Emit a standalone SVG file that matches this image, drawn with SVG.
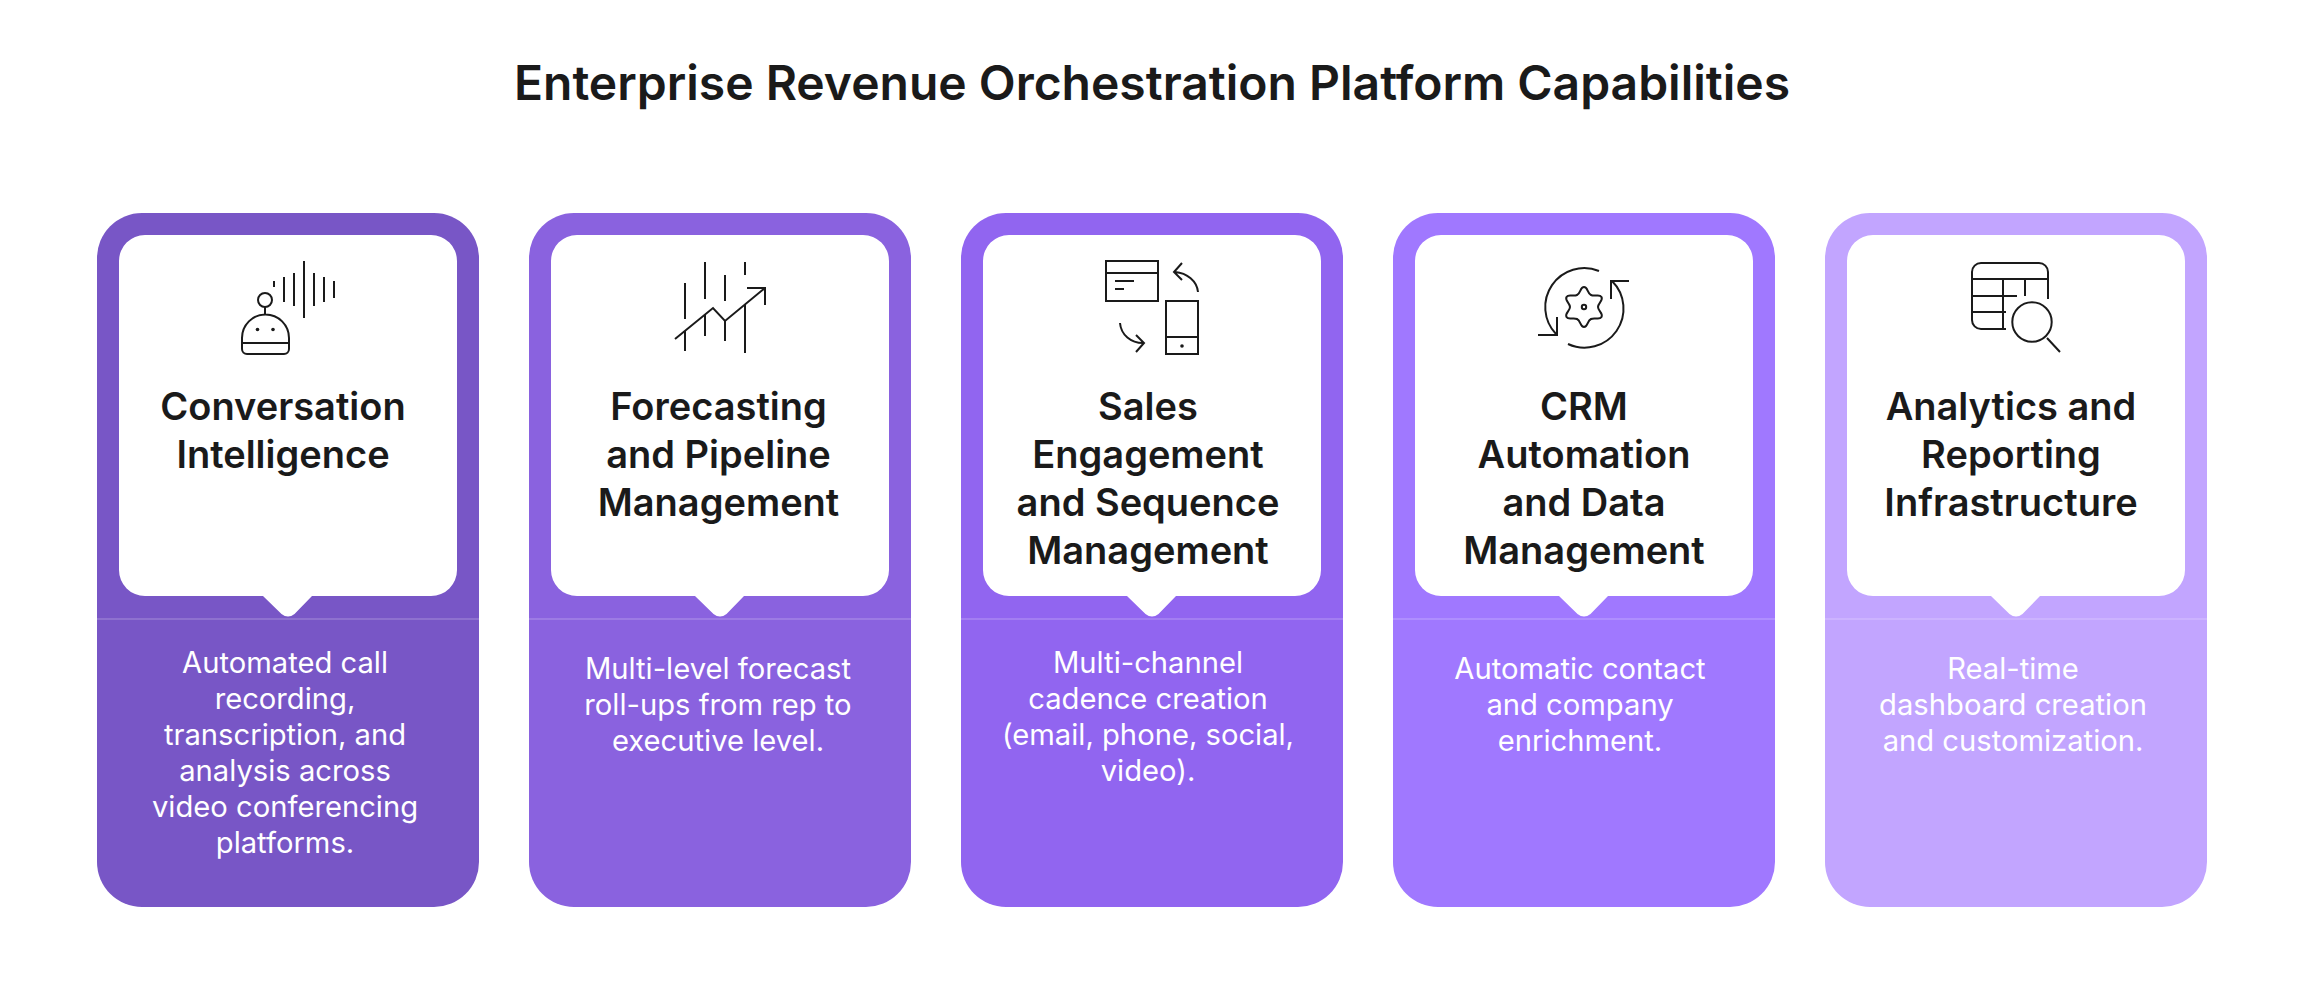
<svg xmlns="http://www.w3.org/2000/svg" width="2304" height="1004" viewBox="0 0 2304 1004">
<style>
text{font-family:"Inter","Noto Sans","Liberation Sans",sans-serif;text-anchor:middle}
.title{font-size:48px;font-weight:600;fill:#1a1a1a}
.h{font-size:38px;font-weight:600;fill:#1a1a1a}
.b{font-size:29.200px;font-weight:400;fill:#fff}
.inner{fill:#fff}
.sep{stroke:#fff;stroke-opacity:.22;stroke-width:1.5}
.ic{fill:none;stroke:#1a1a1a;stroke-width:2;stroke-linecap:butt;stroke-linejoin:miter}
.dot{fill:#1a1a1a}
</style>
<defs>
<path id="shape" d="M45 0H337A45 45 0 0 1 382 45V649A45 45 0 0 1 337 694H45A45 45 0 0 1 0 649V45A45 45 0 0 1 45 0Z"/>
<path id="in" d="M48 22H334A26 26 0 0 1 360 48V357A26 26 0 0 1 334 383H215L197.500 401Q191 406 184.500 401L166 383H48A26 26 0 0 1 22 357V48A26 26 0 0 1 48 22Z"/>
</defs>
<text class="title" x="1152" y="100">Enterprise Revenue Orchestration Platform Capabilities</text>
<g id="card-1">
<use href="#shape" x="97" y="213" fill="#7856C6"/><use href="#in" class="inner" x="97" y="213"/>
<line class="sep" x1="97" x2="479" y1="619" y2="619"/>
<g class="ic"><path d="M274 281V287M284 277V302M294 273V306M304 261V318M314 273V306M324 277V302M334 281V298"/><circle cx="265" cy="300" r="7"/><path d="M265 307V315M242 343V338A23.500 23.500 0 0 1 289 338V349A5 5 0 0 1 284 354H247A5 5 0 0 1 242 349V343H289"/></g>
<circle class="dot" cx="257.500" cy="329.500" r="1.800"/><circle class="dot" cx="273" cy="329.500" r="1.800"/>
<text class="h" x="283" y="420">Conversation</text><text class="h" x="283" y="468">Intelligence</text>
<text class="b" x="285" y="673">Automated call</text><text class="b" x="285" y="709">recording,</text><text class="b" x="285" y="745">transcription, and</text><text class="b" x="285" y="781">analysis across</text><text class="b" x="285" y="817">video conferencing</text><text class="b" x="285" y="853">platforms.</text>
</g>
<g id="card-2">
<use href="#shape" x="529" y="213" fill="#8A62DF"/><use href="#in" class="inner" x="529" y="213"/>
<line class="sep" x1="529" x2="911" y1="619" y2="619"/>
<g class="ic"><path d="M685 283V319M685 331V351M705 262V299M705 315V336M725 275V301M725 321V341M745 262V275M745 304V353M675 339L713 308L725 321L765 288M747 288H765V305"/></g>
<text class="h" x="718.500" y="420">Forecasting</text><text class="h" x="718.500" y="468">and Pipeline</text><text class="h" x="718.500" y="516">Management</text>
<text class="b" x="718" y="679">Multi-level forecast</text><text class="b" x="718" y="715">roll-ups from rep to</text><text class="b" x="718" y="751">executive level.</text>
</g>
<g id="card-3">
<use href="#shape" x="961" y="213" fill="#9165F0"/><use href="#in" class="inner" x="961" y="213"/>
<line class="sep" x1="961" x2="1343" y1="619" y2="619"/>
<g class="ic"><rect x="1106" y="261" width="52" height="40"/><path d="M1106 273H1158M1115 281H1134M1115 289H1124"/><rect x="1166" y="301" width="32" height="53"/><path d="M1166 337H1198M1198 292C1197 281 1187 273 1175 272M1182 263L1174 272L1182 280M1120 323C1121 335 1131 343 1143 343M1136 335L1144 343L1136 352"/></g>
<circle class="dot" cx="1182" cy="346" r="1.800"/>
<text class="h" x="1148" y="420">Sales</text><text class="h" x="1148" y="468">Engagement</text><text class="h" x="1148" y="516">and Sequence</text><text class="h" x="1148" y="564">Management</text>
<text class="b" x="1148" y="673">Multi-channel</text><text class="b" x="1148" y="709">cadence creation</text><text class="b" x="1148" y="745">(email, phone, social,</text><text class="b" x="1148" y="781">video).</text>
</g>
<g id="card-4">
<use href="#shape" x="1393" y="213" fill="#A078FF"/><use href="#in" class="inner" x="1393" y="213"/>
<line class="sep" x1="1393" x2="1775" y1="619" y2="619"/>
<g class="ic"><path d="M1599 271A39 39 0 0 0 1556 334M1538 335H1557V317M1568 344A39 39 0 0 0 1612 281M1629 281H1611V299"/>
<path transform="translate(1584 307)" d="M0 -20C4 -20 3 -14 7 -12C11 -10 15.500 -13.500 17.500 -10C19.500 -6.500 14 -4 14 0C14 4 19.500 6.500 17.500 10C15.500 13.500 11 10 7 12C3 14 4 20 0 20C-4 20 -3 14 -7 12C-11 10 -15.500 13.500 -17.500 10C-19.500 6.500 -14 4 -14 0C-14 -4 -19.500 -6.500 -17.500 -10C-15.500 -13.500 -11 -10 -7 -12C-3 -14 -4 -20 0 -20Z"/><circle cx="1584" cy="307" r="2.200"/></g>
<text class="h" x="1584" y="420">CRM</text><text class="h" x="1584" y="468">Automation</text><text class="h" x="1584" y="516">and Data</text><text class="h" x="1584" y="564">Management</text>
<text class="b" x="1580" y="679">Automatic contact</text><text class="b" x="1580" y="715">and company</text><text class="b" x="1580" y="751">enrichment.</text>
</g>
<g id="card-5">
<use href="#shape" x="1825" y="213" fill="#C2A5FF"/><use href="#in" class="inner" x="1825" y="213"/>
<line class="sep" x1="1825" x2="2207" y1="619" y2="619"/>
<g class="ic"><path d="M2048 299V272A9 9 0 0 0 2039 263H1981A9 9 0 0 0 1972 272V320A9 9 0 0 0 1981 329H2006M1972 279H2048M1972 296H2017M1972 312H2006M2003 279V329M2025 279V296M2047 338L2060 352"/><circle cx="2032" cy="322" r="19.700"/></g>
<text class="h" x="2011" y="420">Analytics and</text><text class="h" x="2011" y="468">Reporting</text><text class="h" x="2011" y="516">Infrastructure</text>
<text class="b" x="2013" y="679">Real-time</text><text class="b" x="2013" y="715">dashboard creation</text><text class="b" x="2013" y="751">and customization.</text>
</g>
</svg>
